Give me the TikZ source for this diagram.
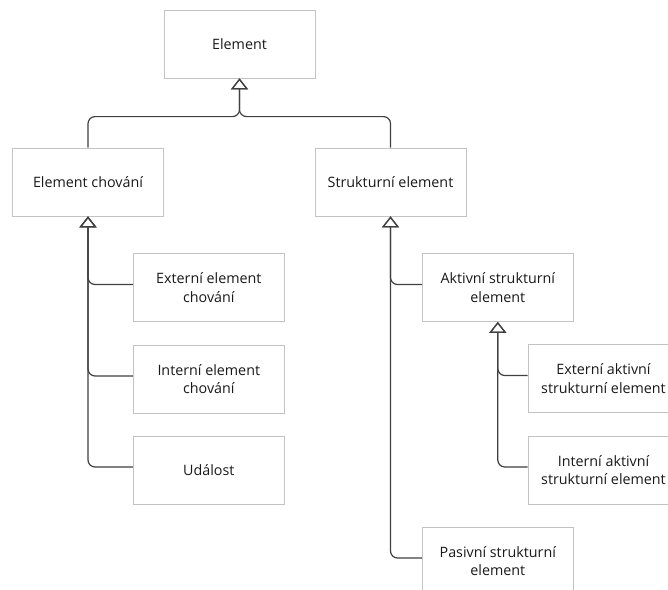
\documentclass[tikz,border=0pt]{standalone}
\usepackage{fontspec}
\setmainfont{Open Sans}
\usetikzlibrary{arrows.meta}
\definecolor{boxgray}{RGB}{195,195,195}
\definecolor{linegray}{RGB}{64,64,64}
\definecolor{textgray}{RGB}{25,25,25}

\begin{document}
\begin{tikzpicture}[x=1pt,y=-1pt,
		elembox/.style={draw=boxgray,line width=0.8pt,fill=white,minimum width=151pt,minimum height=68pt,align=center,text=textgray,font=\fontsize{14.3}{18.3}\selectfont},
		gen/.style={draw=linegray,line width=1.2pt,rounded corners=7pt,-{Triangle[open,width=17pt,length=11pt,line width=1.2pt]}}]
				\clip (0,0) rectangle (668,589);
				\fill[white] (0,0) rectangle (668,589);
				\node[elembox] (elem) at (239.5,44) {Element};
				\node[elembox] (beh) at (88,182) {Element chování};
				\node[elembox] (str) at (390.5,182) {Strukturní element};
				\node[elembox] (extbeh) at (208.8,287.5) {Externí element\\chování};
				\node[elembox] (intbeh) at (208.8,379) {Interní element\\chování};
				\node[elembox] (event) at (208.8,470) {Událost};
				\node[elembox] (act) at (497.8,287.5) {Aktivní strukturní\\element};
				\node[elembox] (extact) at (603.5,378.5) {Externí aktivní\\strukturní element};
				\node[elembox] (intact) at (603.5,470) {Interní aktivní\\strukturní element};
				\node[elembox] (pas) at (497.8,561) {Pasivní strukturní\\element};
				\draw[gen] (beh.north) -- ++(0,-31) -| (elem.south);
				\draw[gen] (str.north) -- ++(0,-31) -| (elem.south);
				\draw[gen] ([yshift=3pt]extbeh.west) -| (beh.south);
				\draw[gen] ([yshift=3pt]intbeh.west) -| (beh.south);
				\draw[gen] ([yshift=3pt]event.west) -| (beh.south);
				\draw[gen] ([yshift=3pt]act.west) -| (str.south);
				\draw[gen] ([yshift=3pt]pas.west) -| (str.south);
				\draw[gen] ([yshift=3pt]extact.west) -| (act.south);
				\draw[gen] ([yshift=3pt]intact.west) -| (act.south);
			\end{tikzpicture}
\end{document}
